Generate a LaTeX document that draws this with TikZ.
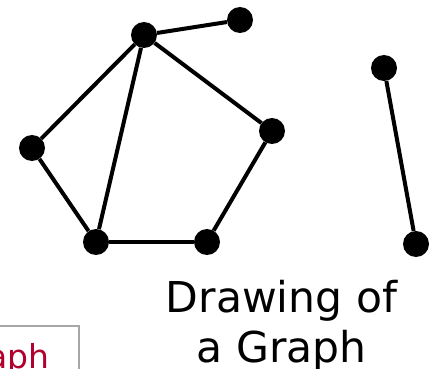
\documentclass[tikz,border=0pt]{standalone}
\usepackage{fontspec}
\setmainfont{DejaVu Sans}
\definecolor{crimsontext}{HTML}{B0002E}
\definecolor{boxgray}{HTML}{A6A6A6}
\begin{document}
\begin{tikzpicture}[x=1pt,y=-1pt,
  vertex/.style={circle,fill=black,inner sep=0pt,minimum size=26pt},
  edge/.style={line width=4pt,black},
  caption/.style={font=\fontsize{42.5}{50}\selectfont,align=center,inner sep=0pt},
  frame/.style={draw=boxgray,line width=2pt,inner sep=0pt,minimum width=120pt,minimum height=70pt}]
\useasboundingbox (0,0) rectangle (437,369);
\clip (0,0) rectangle (437,369);
\node[vertex] (A) at (144,35) {};
\node[vertex] (B) at (240,20) {};
\node[vertex] (C) at (32,148) {};
\node[vertex] (D) at (96,242) {};
\node[vertex] (E) at (207,242) {};
\node[vertex] (F) at (272,131) {};
\node[vertex] (G) at (384,68) {};
\node[vertex] (H) at (416,244) {};
\draw[edge] (A) -- (B);
\draw[edge] (A) -- (C);
\draw[edge] (A) -- (D);
\draw[edge] (A) -- (F);
\draw[edge] (C) -- (D);
\draw[edge] (D) -- (E);
\draw[edge] (E) -- (F);
\draw[edge] (G) -- (H);
\node[caption,anchor=base] (cap1) at (281.5,312) {Drawing of};
\node[caption,anchor=base] (cap2) at (281.5,362) {a Graph};
\node[frame,anchor=north east] (gbox) at (80,325) {};
\node[anchor=base east,inner sep=0pt,text=crimsontext,font=\fontsize{33}{38}\selectfont] (glabel) at (50,368) {Graph};
\end{tikzpicture}
\end{document}
